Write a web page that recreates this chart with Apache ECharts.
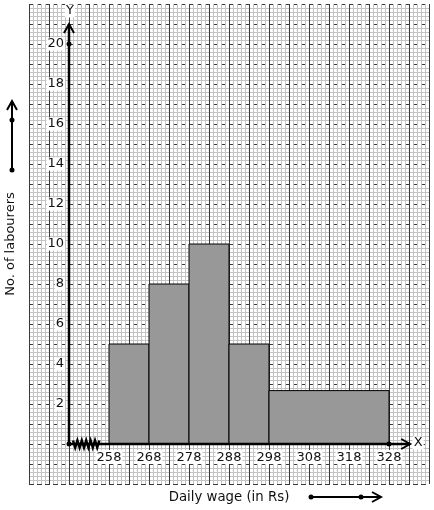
<!DOCTYPE html>
<html>
<head>
<meta charset="utf-8">
<script src="https://cdn.jsdelivr.net/npm/echarts@6/dist/echarts.min.js"></script>
<style>
html,body{margin:0;padding:0;background:#fff;}
#c{width:434px;height:510px;}
</style>
</head>
<body>
<div id="c"></div>
<script>
// ---- data ----
const classStart = [258, 268, 278, 288, 298];
const classEnd   = [268, 278, 288, 298, 328];
const barHeights = [5, 8, 10, 5, 2.67];
const xTickLabels = [258, 268, 278, 288, 298, 308, 318, 328];
const yTickLabels = [2, 4, 6, 8, 10, 12, 14, 16, 18, 20];
const xName = 'Daily wage (in Rs)';
const yName = 'No. of labourers';

const FONT = 'DejaVu Sans';
const chart = echarts.init(document.getElementById('c'), null, {renderer: 'canvas'});

const barData = classStart.map((s, i) => [s, classEnd[i], barHeights[i]]);

function chevron(api, tip, dir) {
  const L = 9, W = 5;
  if (dir === 'up') {
    return [[tip[0] - W, tip[1] + L], tip, [tip[0] + W, tip[1] + L]];
  }
  return [[tip[0] - L, tip[1] - W], tip, [tip[0] - L, tip[1] + W]];
}

const option = {
  animation: false,
  backgroundColor: '#fff',
  textStyle: {fontFamily: FONT},
  grid: {left: 29, top: 4, width: 400, height: 480, containLabel: false, outerBoundsMode: 'none'},
  xAxis: [
    {
      type: 'value', gridIndex: 0, min: 0, max: 100, interval: 5,
      axisLine: {show: false, onZero: false}, axisTick: {show: false}, axisLabel: {show: false},
      splitLine: {show: true, lineStyle: {color: '#3a3a3a', width: 1}},
      minorTick: {show: false, splitNumber: 5},
      minorSplitLine: {show: true, lineStyle: {color: '#c4c4c4', width: 1}},
      z: 0
    },
    {
      type: 'value', gridIndex: 0, min: 238, max: 338, position: 'bottom', offset: -40,
      axisLine: {show: false, onZero: false}, axisTick: {show: false},
      splitLine: {show: false},
      axisLabel: {
        customValues: xTickLabels, margin: 6, color: '#111', fontSize: 13, fontFamily: FONT,
        backgroundColor: '#fff', padding: [1, 1, 0, 1],
        showMinLabel: true, showMaxLabel: true
      },
      name: xName, nameLocation: 'middle', nameGap: 47,
      nameTextStyle: {color: '#111', fontSize: 13.3, fontFamily: FONT}
    }
  ],
  yAxis: [
    {
      type: 'value', gridIndex: 0, min: 0, max: 24, interval: 1,
      axisLine: {show: false, onZero: false}, axisTick: {show: false}, axisLabel: {show: false},
      splitLine: {show: true, lineStyle: {color: '#3a3a3a', width: 1, type: [5, 3]}},
      minorTick: {show: false, splitNumber: 5},
      minorSplitLine: {show: true, lineStyle: {color: '#c4c4c4', width: 1}},
      z: 0
    },
    {
      type: 'value', gridIndex: 0, min: -2, max: 22, position: 'left', offset: -40,
      axisLine: {show: false, onZero: false}, axisTick: {show: false},
      splitLine: {show: false},
      axisLabel: {
        customValues: yTickLabels, margin: 4, color: '#111', fontSize: 13, fontFamily: FONT,
        backgroundColor: '#fff', padding: [0, 1, 0, 1]
      },
      name: yName, nameLocation: 'middle', nameGap: 52,
      nameTextStyle: {color: '#111', fontSize: 13, fontFamily: FONT}
    }
  ],
  series: [
    {
      type: 'custom', xAxisIndex: 1, yAxisIndex: 1, z: 5,
      data: barData,
      renderItem: function (params, api) {
        const p0 = api.coord([api.value(0), 0]);
        const p1 = api.coord([api.value(1), api.value(2)]);
        return {
          type: 'rect',
          shape: {x: p0[0], y: p1[1], width: p1[0] - p0[0], height: p0[1] - p1[1]},
          style: {fill: '#989898', stroke: '#000', lineWidth: 1}
        };
      }
    },
    {
      type: 'custom', xAxisIndex: 1, yAxisIndex: 1, z: 10,
      data: [[248, 0]],
      renderItem: function (params, api) {
        const o = api.coord([248, 0]);
        const yTip = api.coord([248, 21]);
        const xTip = api.coord([333.3, 0]);
        const y20 = api.coord([248, 20]);
        const x328 = api.coord([328, 0]);
        const zs = api.coord([249, 0]);
        const ze = api.coord([256, 0]);
        const zig = [];
        let k = 0;
        for (let x = zs[0]; x <= ze[0]; x += 2.2, k++) {
          zig.push([x, o[1] + (k % 2 === 0 ? -3.5 : 3.5)]);
        }
        const ln = (pts, w) => ({type: 'polyline', shape: {points: pts}, style: {stroke: '#000', lineWidth: w, fill: null}});
        const dot = (p) => ({type: 'circle', shape: {cx: p[0], cy: p[1], r: 2.5}, style: {fill: '#000'}});
        return {
          type: 'group',
          children: [
            ln([o, yTip], 2.5),
            ln([o, xTip], 2.5),
            ln(chevron(api, yTip, 'up'), 2),
            ln(chevron(api, xTip, 'right'), 2),
            ln(zig, 2.5),
            dot(o), dot(y20), dot(x328),
            {type: 'text', x: yTip[0] + 1, y: yTip[1] - 13, style: {text: 'Y', fontSize: 13, fontFamily: FONT, fill: '#111', align: 'center', verticalAlign: 'middle', backgroundColor: '#fff', padding: [0, 1]}},
            {type: 'text', x: xTip[0] + 8, y: xTip[1] - 1, style: {text: 'X', fontSize: 13, fontFamily: FONT, fill: '#111', align: 'center', verticalAlign: 'middle', backgroundColor: '#fff', padding: [0, 1]}}
          ]
        };
      }
    }
  ],
  graphic: [
    {type: 'polyline', shape: {points: [[12, 170], [12, 101]]}, style: {stroke: '#000', lineWidth: 2}},
    {type: 'polyline', shape: {points: [[7, 110], [12, 101], [17, 110]]}, style: {stroke: '#000', lineWidth: 2, fill: null}},
    {type: 'circle', shape: {cx: 12, cy: 170, r: 2.5}, style: {fill: '#000'}},
    {type: 'circle', shape: {cx: 12, cy: 120, r: 2.5}, style: {fill: '#000'}},
    {type: 'polyline', shape: {points: [[311, 497], [381, 497]]}, style: {stroke: '#000', lineWidth: 2}},
    {type: 'polyline', shape: {points: [[372, 492], [381, 497], [372, 502]]}, style: {stroke: '#000', lineWidth: 2, fill: null}},
    {type: 'circle', shape: {cx: 311, cy: 497, r: 2.5}, style: {fill: '#000'}},
    {type: 'circle', shape: {cx: 361, cy: 497, r: 2.5}, style: {fill: '#000'}}
  ]
};
chart.setOption(option);
</script>
</body>
</html>
